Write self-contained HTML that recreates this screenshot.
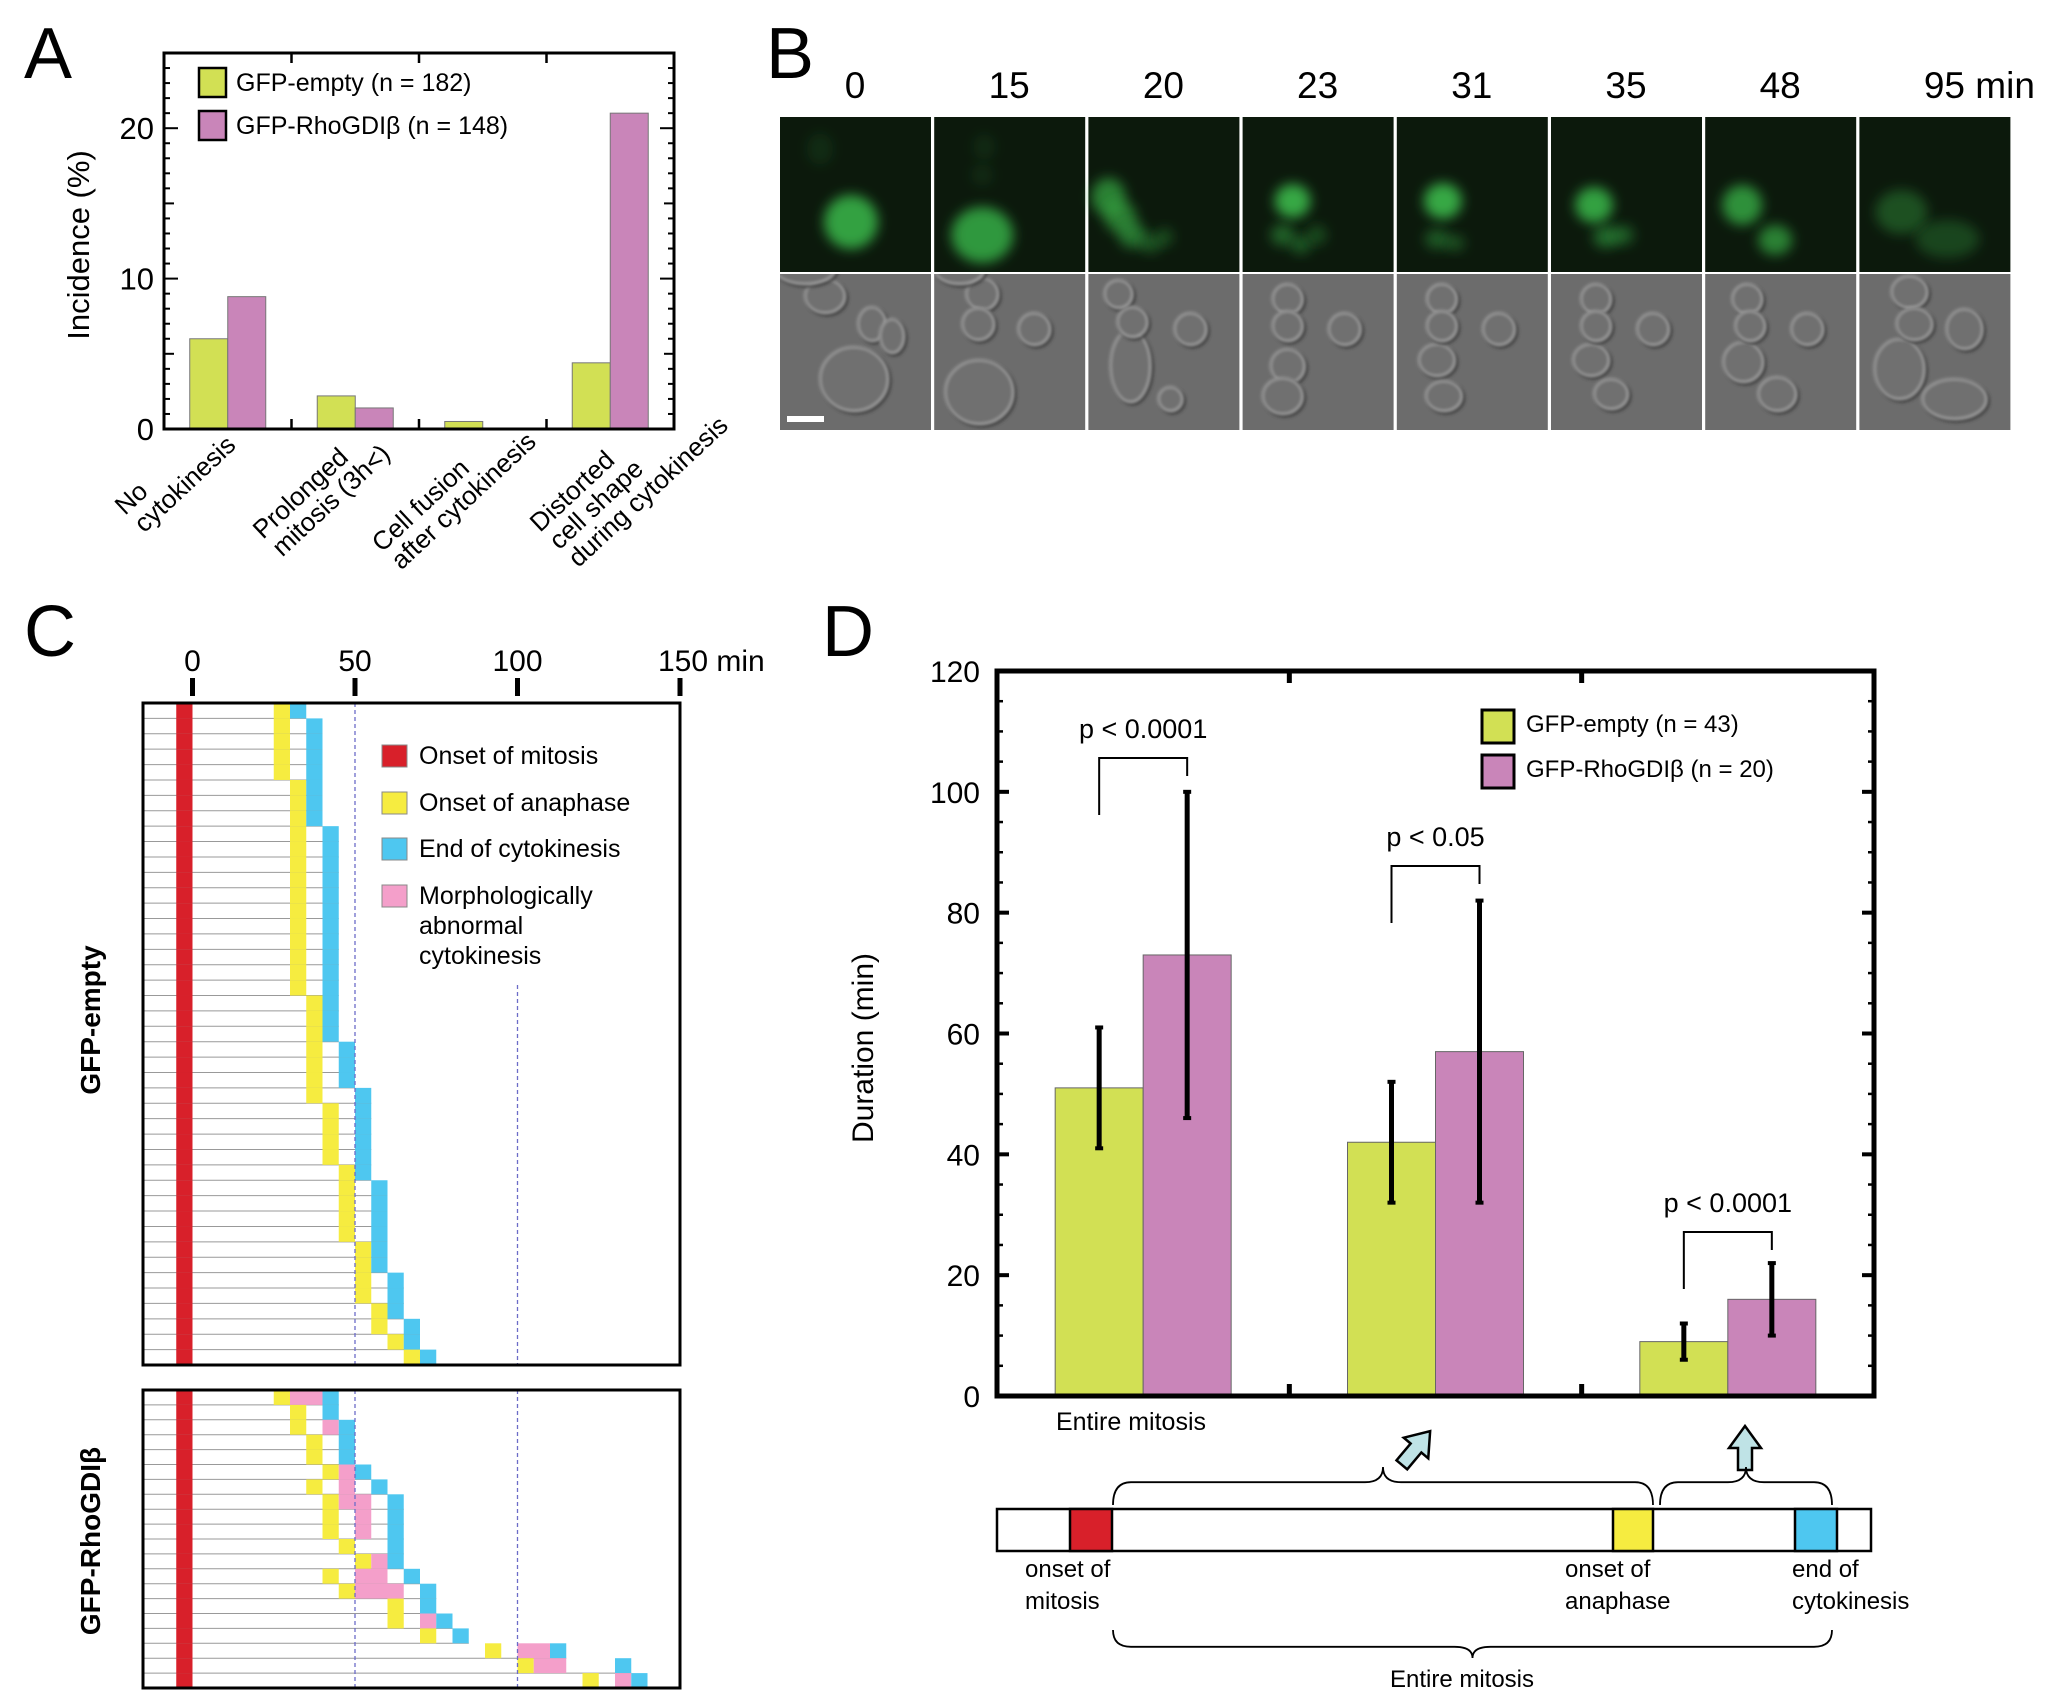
<!DOCTYPE html>
<html><head><meta charset="utf-8"><style>
html,body{margin:0;padding:0;background:#fff;}
svg{display:block;font-family:"Liberation Sans",Arial,sans-serif;}
</style></head><body>
<svg id="fig" xmlns="http://www.w3.org/2000/svg" width="2055" height="1706" viewBox="0 0 2055 1706">
<defs>
<filter id="blur4" x="-50%" y="-50%" width="200%" height="200%"><feGaussianBlur stdDeviation="6"/></filter>
<filter id="blur2" x="-50%" y="-50%" width="200%" height="200%"><feGaussianBlur stdDeviation="1.5"/></filter>
</defs>
<text x="24" y="78" font-size="72">A</text>
<text x="766" y="78" font-size="72">B</text>
<text x="24" y="656" font-size="72">C</text>
<text x="822" y="656" font-size="72">D</text>
<g id="panelA"></g>
<g id="panelB"></g>
<g id="panelC"></g>
<g id="panelD"></g>
</svg>
<script>
// ---------- Panel A data ----------
const aCategories = [["No","cytokinesis"],["Prolonged","mitosis (3h<)"],["Cell fusion","after cytokinesis"],["Distorted","cell shape","during cytokinesis"]];
const aEmpty = [6.0, 2.2, 0.5, 4.4];
const aRho = [8.8, 1.4, 0, 21.0];
const aTicks = [0, 10, 20];
// ---------- Panel B data ----------
const bTimes = ["0","15","20","23","31","35","48","95 min"];
// ---------- Panel C data (minutes) ----------
const cEmptyAna = [25,25,25,25,25,30,30,30,30,30,30,30,30,30,30,30,30,30,30,35,35,35,35,35,35,35,40,40,40,40,45,45,45,45,45,50,50,50,50,55,55,60,65];
const cEmptyEnd = [30,35,35,35,35,35,35,35,40,40,40,40,40,40,40,40,40,40,40,40,40,40,45,45,45,50,50,50,50,50,50,55,55,55,55,55,55,60,60,60,65,65,70];
const cRhoAna = [25,30,30,35,35,40,35,40,40,40,45,50,40,45,60,60,70,90,100,120];
const cRhoPinkStart = [30,null,40,null,null,45,45,45,50,50,null,55,50,50,null,70,null,100,105,130];
const cRhoPinkEnd = [40,null,45,null,null,50,50,55,55,55,null,60,60,65,null,75,null,110,115,135];
const cRhoEnd = [40,40,45,45,45,50,55,60,60,60,60,60,65,70,70,75,80,110,130,135];
const cTicks = [0,50,100,150];
// ---------- Panel D data ----------
const dGroups = ["Entire mitosis","Anaphase","Cytokinesis"];
const dEmpty = [51, 42, 9];
const dEmptyLo = [41, 32, 6];
const dEmptyHi = [61, 52, 12];
const dRho = [73, 57, 16];
const dRhoLo = [46, 32, 10];
const dRhoHi = [100, 82, 22];
const dPvals = ["p < 0.0001","p < 0.05","p < 0.0001"];
const dTicks = [0,20,40,60,80,100,120];

const NS="http://www.w3.org/2000/svg";
function mk(parent,tag,attrs,txt){const e=document.createElementNS(NS,tag);for(const k in attrs)e.setAttribute(k,attrs[k]);if(txt!==undefined)e.textContent=txt;parent.appendChild(e);return e;}
const GREEN="#d2e054", PINK="#c985b9";

// ===== Panel A =====
(function(){
const g=document.getElementById('panelA');
const L=164,R=674,T=53,B=429,ymax=25;
const y=v=>B-(v/ymax)*(B-T);
const gw=(R-L)/aEmpty.length, bw=38;
const cx=i=>L+gw*(i+0.5);
for(let i=0;i<aEmpty.length;i++){
 const b1=mk(g,'rect',{x:cx(i)-bw,y:y(aEmpty[i]),width:bw,height:B-y(aEmpty[i]),fill:GREEN,stroke:'#777','stroke-width':1});
 
 
 if(aRho[i]>0){const b2=mk(g,'rect',{x:cx(i),y:y(aRho[i]),width:bw,height:B-y(aRho[i]),fill:PINK,stroke:'#777','stroke-width':1});
 
 }
}
for(let v=0;v<=ymax;v++){
 const len=v%10===0?14:(v%5===0?10:6);
 mk(g,'line',{x1:L,x2:L+len,y1:y(v),y2:y(v),stroke:'#000','stroke-width':2});
 mk(g,'line',{x1:R,x2:R-len,y1:y(v),y2:y(v),stroke:'#000','stroke-width':2});
}
for(let i=1;i<aEmpty.length;i++){
 mk(g,'line',{x1:L+gw*i,x2:L+gw*i,y1:B,y2:B-10,stroke:'#000','stroke-width':2.5});
 mk(g,'line',{x1:L+gw*i,x2:L+gw*i,y1:T,y2:T+10,stroke:'#000','stroke-width':2.5});
}
mk(g,'rect',{x:L,y:T,width:R-L,height:B-T,fill:'none',stroke:'#000','stroke-width':3});
aTicks.forEach(v=>{const t=mk(g,'text',{x:L-10,y:y(v)+11,'font-size':31,'text-anchor':'end'},String(v));
 
 });
const yt=mk(g,'text',{x:0,y:0,'font-size':31,'text-anchor':'middle',transform:'translate(89,245) rotate(-90)'},'Incidence (%)');


const starts=[[125,516],[263,540],[382,553],[540,533]];
aCategories.forEach((lines,i)=>{
 const t=mk(g,'text',{'font-size':26,transform:`translate(${starts[i][0]},${starts[i][1]}) rotate(-43)`});
 
 
 lines.forEach((ln,j)=>mk(t,'tspan',{x:j*2,y:j*26},ln));
});
const lg=[[GREEN,'GFP-empty (n = 182)',68],[PINK,'GFP-RhoGDIβ (n = 148)',111]];
lg.forEach(([c,s,yy],k)=>{
 mk(g,'rect',{x:199,y:yy,width:27,height:29,fill:c,stroke:'#000','stroke-width':2.5});
 const t=mk(g,'text',{x:236,y:yy+23,'font-size':25},s);
 
 
});
})();

// ===== Panel B =====
(function(){
const g=document.getElementById('panelB');
const X0=780, stride=154.2, W=151, GT=117, GH=155, DT=274, DH=156;
const blobs=[
 [[71,105,27,27,0.85],[40,32,13,16,0.12]],
 [[48,118,31,28,0.8],[50,30,11,13,0.1],[48,58,11,11,0.1]],
 [[20,80,17,19,0.65],[32,100,16,16,0.6],[44,118,14,13,0.55],[62,127,11,9,0.35],[76,120,9,9,0.3]],
 [[50,84,18,17,0.9],[40,118,12,11,0.45],[58,128,10,9,0.4],[74,118,10,10,0.3]],
 [[46,84,19,18,0.9],[40,122,12,10,0.4],[58,126,10,8,0.35]],
 [[43,88,19,18,0.85],[55,120,13,11,0.5],[72,118,11,10,0.4]],
 [[37,88,20,20,0.75],[70,123,17,15,0.65]],
 [[42,95,26,22,0.35],[88,122,32,19,0.28]]
];
const cells=[
 [[74,105,34,32],[45,22,20,17],[92,50,14,17],[112,62,12,17],[25,-5,30,15]],
 [[45,118,34,32],[48,20,16,16],[44,50,16,16],[100,55,16,16],[25,-5,25,15]],
 [[42,92,20,36],[30,20,14,14],[44,48,15,15],[82,125,12,12],[102,55,16,16]],
 [[45,92,17,17],[40,122,20,18],[45,25,15,15],[45,52,15,15],[102,55,16,16]],
 [[40,86,18,16],[47,122,18,15],[45,25,15,15],[45,52,15,15],[102,55,16,16]],
 [[40,86,18,16],[60,120,17,15],[45,25,15,15],[45,52,15,15],[102,55,16,16]],
 [[38,88,20,20],[72,120,19,17],[42,25,15,15],[45,52,15,15],[102,55,16,16]],
 [[40,95,25,30],[95,125,32,20],[50,18,18,16],[55,50,18,16],[105,55,18,20]]
];
for(let i=0;i<8;i++){
 const x=X0+stride*i;
 const fr=mk(g,'g',{});
 
 
 mk(fr,'rect',{x:x,y:GT,width:W,height:GH,fill:'#0c190c'});
 const cl=mk(fr,'g',{});
 blobs[i].forEach(b=>mk(cl,'ellipse',{cx:x+b[0],cy:GT+b[1],rx:b[2],ry:b[3],fill:'#3ab84a','fill-opacity':b[4],filter:'url(#blur4)'}));
 const dr=mk(g,'g',{});
 
 
 mk(dr,'rect',{x:x,y:DT,width:W,height:DH,fill:'#6c6c6c'});
 const sub=mk(dr,'svg',{x:x,y:DT,width:W,height:DH,overflow:'hidden'});
 cells[i].forEach(c=>{
  mk(sub,'ellipse',{cx:c[0]+2,cy:c[1]+2,rx:c[2],ry:c[3],fill:'none',stroke:'#3a3a3a','stroke-width':3,filter:'url(#blur2)'});
  mk(sub,'ellipse',{cx:c[0],cy:c[1],rx:c[2],ry:c[3],fill:'#707070',stroke:'#a8a8a8','stroke-width':2,filter:'url(#blur2)'});
 });
 const t=mk(g,'text',{x:i<7?x+75:x+120,y:98,'font-size':37,'text-anchor':'middle'},bTimes[i]);
 
 
}
mk(g,'rect',{x:787,y:416,width:37,height:6,fill:'#fff'});
})();

// ===== Panel C =====
(function(){
const g=document.getElementById('panelC');
const L=143,R=680,x0=192.5,pxm=3.25;
const x=m=>x0+m*pxm;
const RED="#d8202a",YEL="#f6ec40",BLU="#4ec7f0",PNK="#f49fca";
function box(T,B,n,ana,ps,pe,end,key){
 const rh=(B-T)/n;
 for(let i=0;i<n;i++){
  const yy=T+rh*i;
  const last=end[i]+5;
  mk(g,'line',{x1:L,x2:x(last),y1:yy+rh,y2:yy+rh,stroke:'#999','stroke-width':1});
  mk(g,'rect',{x:x(-5),y:yy,width:5*pxm,height:rh,fill:RED});
  const ya=mk(g,'rect',{x:x(ana[i]),y:yy,width:5*pxm,height:rh,fill:YEL});
  
  
  if(ps && ps[i]!==null){const p=mk(g,'rect',{x:x(ps[i]),y:yy,width:(pe[i]-ps[i])*pxm,height:rh,fill:PNK});
   
   }
  const bl=mk(g,'rect',{x:x(end[i]),y:yy,width:5*pxm,height:rh,fill:BLU});
  
  
 }
 mk(g,'line',{x1:x(50),x2:x(50),y1:T,y2:B,stroke:'#6c6cc8','stroke-width':1.3,'stroke-dasharray':'4,3'});
 mk(g,'line',{x1:x(100),x2:x(100),y1:key==='empty'?985:T,y2:B,stroke:'#6c6cc8','stroke-width':1.3,'stroke-dasharray':'4,3'});
 mk(g,'rect',{x:L,y:T,width:R-L,height:B-T,fill:'none',stroke:'#000','stroke-width':3});
}
box(703,1365,cEmptyAna.length,cEmptyAna,null,null,cEmptyEnd,'empty');
box(1390,1688,cRhoAna.length,cRhoAna,cRhoPinkStart,cRhoPinkEnd,cRhoEnd,'rho');
cTicks.forEach(v=>{
 mk(g,'line',{x1:x(v),x2:x(v),y1:678,y2:696,stroke:'#000','stroke-width':5});
 const t=mk(g,'text',{x:x(v),y:671,'font-size':30,'text-anchor':v===150?'start':'middle'},v===150?'150 min':String(v));
 if(v===150)t.setAttribute('x',x(v)-22);
 
 
});
const s1=mk(g,'text',{'font-size':28,'font-weight':'bold','text-anchor':'middle',transform:'translate(100,1020) rotate(-90)'},'GFP-empty');


const s2=mk(g,'text',{'font-size':28,'font-weight':'bold','text-anchor':'middle',transform:'translate(100,1541) rotate(-90)'},'GFP-RhoGDIβ');


const lg=[[RED,['Onset of mitosis'],745],[YEL,['Onset of anaphase'],792],[BLU,['End of cytokinesis'],838],[PNK,['Morphologically','abnormal','cytokinesis'],885]];
lg.forEach(([c,ls,yy])=>{
 mk(g,'rect',{x:382,y:yy,width:25,height:22,fill:c,stroke:'#888','stroke-width':1});
 const t=mk(g,'text',{x:419,y:yy+19,'font-size':25});
 
 
 ls.forEach((s,j)=>mk(t,'tspan',{x:419,dy:j?30:0},s));
});
})();

// ===== Panel D =====
(function(){
const g=document.getElementById('panelD');
const L=997,R=1874,T=671,B=1396,ymax=120;
const y=v=>B-(v/ymax)*(B-T);
const gw=(R-L)/3,bw=88;
const cx=i=>L+gw*(i+0.5);
for(let i=0;i<3;i++){
 const b1=mk(g,'rect',{x:cx(i)-bw,y:y(dEmpty[i]),width:bw,height:B-y(dEmpty[i]),fill:GREEN,stroke:'#666','stroke-width':1});
 
 
 const b2=mk(g,'rect',{x:cx(i),y:y(dRho[i]),width:bw,height:B-y(dRho[i]),fill:PINK,stroke:'#666','stroke-width':1});
 
 
 [[cx(i)-bw/2,dEmptyLo[i],dEmptyHi[i]],[cx(i)+bw/2,dRhoLo[i],dRhoHi[i]]].forEach(([xx,lo,hi])=>{
  const e=mk(g,'line',{x1:xx,x2:xx,y1:y(lo),y2:y(hi),stroke:'#000','stroke-width':5});
  
  
  mk(g,'line',{x1:xx-4,x2:xx+4,y1:y(lo),y2:y(lo),stroke:'#000','stroke-width':4});
  mk(g,'line',{x1:xx-4,x2:xx+4,y1:y(hi),y2:y(hi),stroke:'#000','stroke-width':4});
 });
 const brY=[758,866,1232][i];
 const xl=cx(i)-bw/2, xr=cx(i)+bw/2;
 mk(g,'polyline',{points:`${xl},${brY+Math.min(57,y(dEmptyHi[i])-brY-20)} ${xl},${brY} ${xr},${brY} ${xr},${brY+Math.min(18,y(dRhoHi[i])-brY-2)}`,fill:'none',stroke:'#000','stroke-width':2});
 const pt=mk(g,'text',{x:cx(i),y:brY-20,'font-size':27,'text-anchor':'middle'},dPvals[i]);
 
 
}
for(let v=0;v<=ymax;v+=5){
 const len=v%20===0?12:6;
 mk(g,'line',{x1:L,x2:L+len,y1:y(v),y2:y(v),stroke:'#000','stroke-width':v%20===0?4:2.5});
 mk(g,'line',{x1:R,x2:R-len,y1:y(v),y2:y(v),stroke:'#000','stroke-width':v%20===0?4:2.5});
}
for(let i=1;i<3;i++){
 mk(g,'line',{x1:L+gw*i,x2:L+gw*i,y1:B,y2:B-12,stroke:'#000','stroke-width':5});
 mk(g,'line',{x1:L+gw*i,x2:L+gw*i,y1:T,y2:T+12,stroke:'#000','stroke-width':5});
}
mk(g,'rect',{x:L,y:T,width:R-L,height:B-T,fill:'none',stroke:'#000','stroke-width':5});
dTicks.forEach(v=>{const t=mk(g,'text',{x:L-17,y:y(v)+11,'font-size':30,'text-anchor':'end'},String(v));
 
 });
const yt=mk(g,'text',{'font-size':30,'text-anchor':'middle',transform:'translate(873,1048) rotate(-90)'},'Duration (min)');


const gl=mk(g,'text',{x:1131,y:1430,'font-size':25,'text-anchor':'middle'},dGroups[0]);


[[GREEN,'GFP-empty (n = 43)',710],[PINK,'GFP-RhoGDIβ (n = 20)',755]].forEach(([c,s,yy])=>{
 mk(g,'rect',{x:1482,y:yy,width:32,height:33,fill:c,stroke:'#000','stroke-width':3});
 const t=mk(g,'text',{x:1526,y:yy+22,'font-size':24},s);
 
 
});
const a1=mk(g,'path',{d:'M0,-22 L16,0 L7,0 L7,22 L-7,22 L-7,0 L-16,0 Z',fill:'#bfe3e6',stroke:'#000','stroke-width':2.5,transform:'translate(1416,1448) rotate(40)'});

const a2=mk(g,'path',{d:'M0,-22 L16,0 L7,0 L7,22 L-7,22 L-7,0 L-16,0 Z',fill:'#bfe3e6',stroke:'#000','stroke-width':2.5,transform:'translate(1745,1448)'});

const tl=mk(g,'g',{});


mk(tl,'rect',{x:997,y:1509,width:874,height:42,fill:'#fff',stroke:'#000','stroke-width':2.5});
mk(tl,'rect',{x:1070,y:1509,width:42,height:42,fill:'#d8202a',stroke:'#000','stroke-width':2.5});
mk(tl,'rect',{x:1613,y:1509,width:40,height:42,fill:'#f6ec40',stroke:'#000','stroke-width':2.5});
mk(tl,'rect',{x:1795,y:1509,width:42,height:42,fill:'#4ec7f0',stroke:'#000','stroke-width':2.5});
function brace(x1,x2,yb,h,up){
 const m=(x1+x2)/2, s=up?-1:1, yt=yb+s*h;
 return `M${x1},${yb} Q${x1},${yb+s*h*0.6} ${x1+18},${yb+s*h*0.6} L${m-18},${yb+s*h*0.6} Q${m},${yb+s*h*0.6} ${m},${yt} Q${m},${yb+s*h*0.6} ${m+18},${yb+s*h*0.6} L${x2-18},${yb+s*h*0.6} Q${x2},${yb+s*h*0.6} ${x2},${yb}`;
}
mk(tl,'path',{d:brace(1113,1653,1505,38,true),fill:'none',stroke:'#000','stroke-width':1.8});
mk(tl,'path',{d:brace(1660,1832,1505,38,true),fill:'none',stroke:'#000','stroke-width':1.8});
mk(tl,'path',{d:brace(1113,1832,1630,28,false),fill:'none',stroke:'#000','stroke-width':1.8});
[['onset of','mitosis',1025],['onset of','anaphase',1565],['end of','cytokinesis',1792]].forEach(([a,b,xx])=>{
 const t=mk(tl,'text',{x:xx,y:1577,'font-size':24});
 
 
 mk(t,'tspan',{x:xx},a);mk(t,'tspan',{x:xx,dy:32},b);
});
const em=mk(tl,'text',{x:1462,y:1687,'font-size':24,'text-anchor':'middle'},'Entire mitosis');


})();
</script>
</body></html>
